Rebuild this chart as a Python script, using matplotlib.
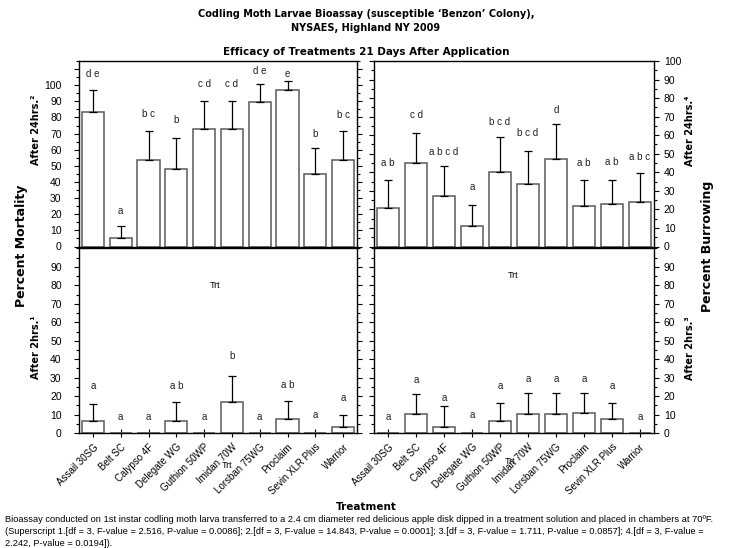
import matplotlib
matplotlib.use('Agg')
import matplotlib.pyplot as plt
from matplotlib.ticker import MultipleLocator
import numpy as np

treatments = ['Assail 30SG', 'Belt SC', 'Calypso 4F', 'Delegate WG', 'Guthion 50WP',
              'Imidan 70W', 'Lorsban 75WG', 'Proclaim', 'Sevin XLR Plus', 'Warrior']

# mean and top of error bar, per panel
mort24 = [83.4, 5.4, 53.4, 48.2, 73.1, 73.1, 89.6, 97.1, 45.1, 53.4]
mort24_err = [97.3, 12.8, 71.8, 67.5, 90.3, 90.3, 100.8, 102.7, 61.3, 71.8]
mort24_let = ['d e', 'a', 'b c', 'b', 'c d', 'c d', 'd e', 'e', 'b', 'b c']
mort24_lety = [107.2, 21.7, 82.0, 78.3, 101.0, 101.0, 108.7, 107.0, 70.0, 81.4]

burr24 = [20.5, 45.0, 27.4, 11.2, 40.0, 33.6, 47.1, 21.9, 22.8, 23.9]
burr24_err = [35.6, 61.2, 43.4, 22.5, 58.8, 51.5, 65.8, 35.6, 35.9, 39.6]
burr24_let = ['a b', 'c d', 'a b c d', 'a', 'b c d', 'b c d', 'd', 'a b', 'a b', 'a b c']
burr24_lety = [45.0, 71.0, 51.0, 32.0, 67.0, 61.0, 73.5, 45.0, 45.5, 48.0]

mort2 = [6.3, 0, 0, 6.7, 0, 16.8, 0, 7.8, 0, 3.3]
mort2_err = [15.9, 0, 0, 16.8, 0, 30.7, 0, 17.5, 0, 9.9]
mort2_let = ['a', 'a', 'a', 'a b', 'a', 'b', 'a', 'a b', 'a', 'a']
mort2_lety = [25.3, 8.5, 8.5, 25.3, 8.5, 41.6, 8.5, 25.9, 9.6, 19.0]

burr2 = [0, 10.4, 3.4, 0, 6.3, 10.1, 10.1, 11.0, 7.6, 0]
burr2_err = [0, 20.9, 14.7, 0, 16.0, 21.6, 21.6, 21.6, 16.0, 0]
burr2_let = ['a'] * 10
burr2_lety = [8.8, 28.8, 19.2, 10.0, 25.5, 29.5, 29.5, 29.5, 25.5, 8.8]

TICKFONT = 'Liberation Sans'
HEAD = 'DejaVu Sans'

fig = plt.figure(figsize=(7.32, 5.48), dpi=100)

W, H = 732.0, 548.0
def box(x0, x1, ytop, ybot):
    return [x0 / W, 1 - ybot / H, (x1 - x0) / W, (ybot - ytop) / H]

ax_tl = fig.add_axes(box(79, 357, 61, 246.5))
ax_tr = fig.add_axes(box(374, 654, 61, 246.5))
ax_bl = fig.add_axes(box(79, 357, 248.5, 433))
ax_br = fig.add_axes(box(374, 654, 248.5, 433))

x = np.arange(len(treatments))

def panel(ax, vals, errs, lets, lety, ytop, side, last_major):
    vals = np.array(vals)
    errs = np.array(errs)
    ax.bar(x, vals, width=0.8, facecolor='white', edgecolor='#5a5a5a', linewidth=1.1, zorder=2)
    up = errs - vals
    mask = up > 0
    ax.errorbar(x[mask], vals[mask], yerr=[np.zeros(mask.sum()), up[mask]],
                fmt='none', ecolor='black', elinewidth=0.9, capsize=3, capthick=0.9, zorder=3)
    for i in range(len(x)):
        ax.text(x[i], lety[i], lets[i], ha='center', va='center', fontsize=7,
                family=TICKFONT, color='#222222')
    ax.set_xlim(-0.5, len(x) - 0.5)
    ax.set_ylim(0, ytop)
    ax.set_yticks(np.arange(0, last_major + 1, 10))
    ax.yaxis.set_minor_locator(MultipleLocator(5))
    ax.set_xticks(x)
    ax.tick_params(axis='x', direction='inout', length=6, width=0.8)
    ax.tick_params(axis='y', which='major', direction='out', length=3.5, width=0.8,
                   left=True, right=True, labelsize=7.5)
    ax.tick_params(axis='y', which='minor', direction='out', length=2, width=0.8,
                   left=True, right=True)
    if side == 'left':
        ax.tick_params(axis='y', which='major', labelleft=True, labelright=False, pad=9)
    else:
        ax.tick_params(axis='y', which='major', labelleft=False, labelright=True, pad=3.5)
    for lab in ax.get_yticklabels():
        lab.set_family(TICKFONT)
    for s in ax.spines.values():
        s.set_linewidth(1.0)

panel(ax_tl, mort24, mort24_err, mort24_let, mort24_lety, 115, 'left', 100)
panel(ax_tr, burr24, burr24_err, burr24_let, burr24_lety, 100, 'right', 100)
panel(ax_bl, mort2, mort2_err, mort2_let, mort2_lety, 100, 'left', 90)
panel(ax_br, burr2, burr2_err, burr2_let, burr2_lety, 100, 'right', 90)

ax_tl.set_yticks(np.arange(0, 111, 10))
ax_tl.set_yticklabels([str(v) if v <= 100 else '' for v in range(0, 111, 10)], family=TICKFONT)

for ax in (ax_tl, ax_tr):
    ax.set_xticklabels([])
for ax in (ax_bl, ax_br):
    ax.set_xticklabels(treatments, rotation=45, ha='right', rotation_mode='anchor',
                       fontsize=7, family=TICKFONT)
ax_bl.text(0.489, 0.797, 'Trt', transform=ax_bl.transAxes, ha='center', va='center',
           fontsize=6.5, family=TICKFONT)
ax_br.text(0.496, 0.851, 'Trt', transform=ax_br.transAxes, ha='center', va='center',
           fontsize=6.5, family=TICKFONT)
fig.text(227 / W, 1 - 465 / H, 'Trt', ha='center', va='center', fontsize=6.5, family=TICKFONT)
fig.text(510 / W, 1 - 461 / H, 'Trt', ha='center', va='center', fontsize=6.5, family=TICKFONT)

# titles
fig.text(0.5, 1 - 14 / H, 'Codling Moth Larvae Bioassay (susceptible \u2018Benzon\u2019 Colony),',
         ha='center', va='center', fontsize=7, fontweight='bold', family=HEAD)
fig.text(0.5, 1 - 28 / H, 'NYSAES, Highland NY 2009',
         ha='center', va='center', fontsize=7, fontweight='bold', family=HEAD)
fig.text(0.5, 1 - 52 / H, 'Efficacy of Treatments 21 Days After Application',
         ha='center', va='center', fontsize=7.5, fontweight='bold', family=HEAD)

fig.text(22 / W, 1 - 246 / H, 'Percent Mortality', rotation=90, ha='center', va='center',
         fontsize=9, fontweight='bold', family=HEAD)
fig.text(708 / W, 1 - 246 / H, 'Percent Burrowing', rotation=90, ha='center', va='center',
         fontsize=9, fontweight='bold', family=HEAD)
fig.text(36 / W, 1 - 130 / H, 'After 24hrs.\u00b2', rotation=90, ha='center', va='center',
         fontsize=7, fontweight='bold', family=HEAD)
fig.text(36 / W, 1 - 347 / H, 'After 2hrs.\u00b9', rotation=90, ha='center', va='center',
         fontsize=7, fontweight='bold', family=HEAD)
fig.text(690 / W, 1 - 131 / H, 'After 24hrs.\u2074', rotation=90, ha='center', va='center',
         fontsize=7, fontweight='bold', family=HEAD)
fig.text(690 / W, 1 - 348 / H, 'After 2hrs.\u00b3', rotation=90, ha='center', va='center',
         fontsize=7, fontweight='bold', family=HEAD)

fig.text(0.5, 1 - 507 / H, 'Treatment', ha='center', va='center',
         fontsize=7.5, fontweight='bold', family=HEAD)

notes = ['Bioassay conducted on 1st instar codling moth larva transferred to a 2.4 cm diameter red delicious apple disk dipped in a treatment solution and placed in chambers at 70\u00baF.',
         '(Superscript 1.[df = 3, F-value = 2.516, P-value = 0.0086]; 2.[df = 3, F-value = 14.843, P-value = 0.0001]; 3.[df = 3, F-value = 1.711, P-value = 0.0857]; 4.[df = 3, F-value =',
         '2.242, P-value = 0.0194]).']
for i, line in enumerate(notes):
    fig.text(5 / W, 1 - (519 + 12 * i) / H, line, ha='left', va='center',
             fontsize=6.7, family=TICKFONT)

fig.savefig('out.png', dpi=100)
